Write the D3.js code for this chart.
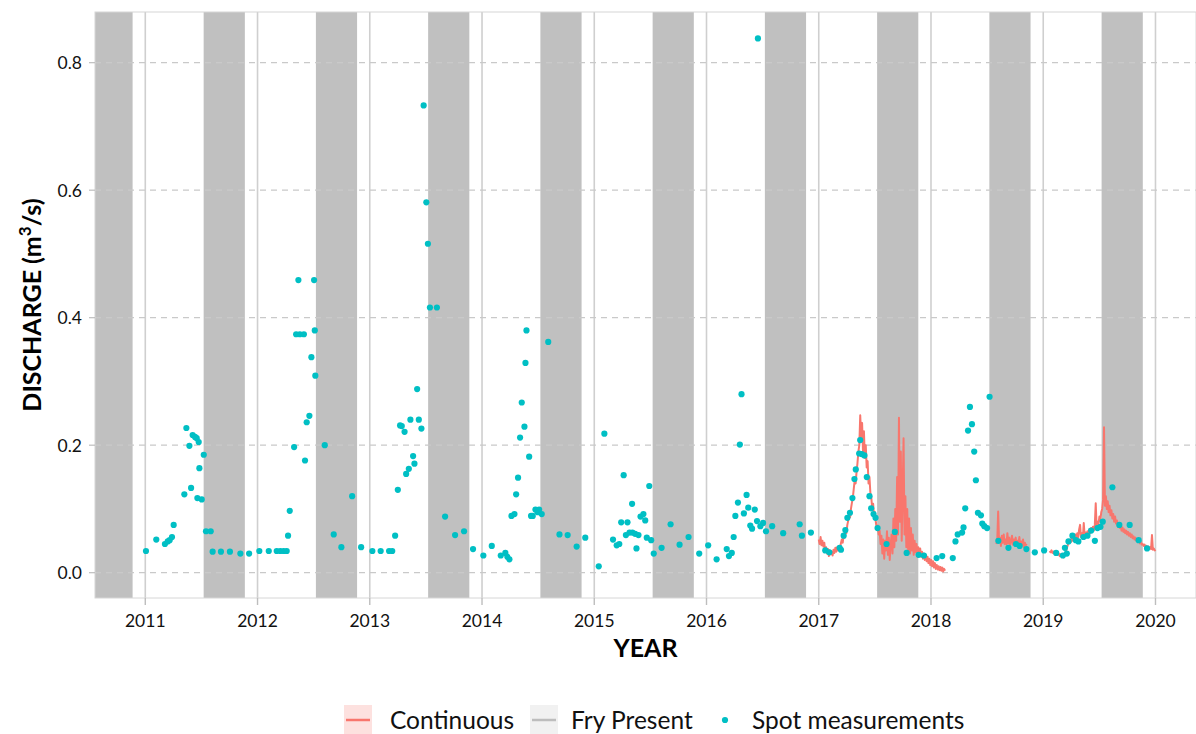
<!DOCTYPE html>
<html>
<head>
<meta charset="utf-8">
<script src="https://cdn.jsdelivr.net/npm/d3@7"></script>
<style>
  body { margin: 0; background: #fff; }
  svg { display: block; font-family: Lato, "Open Sans", sans-serif; }
</style>
</head>
<body>
<svg id="chart" width="1196" height="734"></svg>
<script>
// tick labels
const yearTicks = [2011, 2012, 2013, 2014, 2015, 2016, 2017, 2018, 2019, 2020];
const qTicks = [0.0, 0.2, 0.4, 0.6, 0.8];

// fry present periods (decimal years)
const fryStart = [2010.52, 2011.52, 2012.52, 2013.52, 2014.52, 2015.52, 2016.52, 2017.52, 2018.52, 2019.52];
const fryEnd   = [2010.887, 2011.887, 2012.887, 2013.887, 2014.887, 2015.887, 2016.887, 2017.887, 2018.887, 2019.887];

// spot measurements (decimal year, m3/s)
const spotYear = [
  2011.006,2011.098,2011.175,2011.200,2011.217,2011.238,2011.253,2011.348,2011.366,2011.393,
  2011.408,2011.422,2011.443,2011.458,2011.464,2011.476,2011.482,2011.503,2011.521,2011.541,
  2011.583,2011.600,2011.674,2011.754,2011.847,2011.925,2012.016,2012.100,2012.171,2012.203,
  2012.233,2012.260,2012.272,2012.287,2012.326,2012.344,2012.364,2012.377,2012.413,2012.423,
  2012.438,2012.462,2012.480,2012.504,2012.510,2012.515,2012.599,2012.679,2012.747,2012.843,
  2012.923,2013.023,2013.097,2013.172,2013.200,2013.226,2013.250,2013.270,2013.285,2013.310,
  2013.324,2013.348,2013.362,2013.386,2013.398,2013.422,2013.437,2013.460,2013.480,2013.504,
  2013.518,2013.536,2013.598,2013.671,2013.760,2013.840,2013.920,2014.012,2014.087,2014.167,
  2014.208,2014.226,2014.244,2014.262,2014.289,2014.304,2014.321,2014.339,2014.354,2014.378,
  2014.387,2014.396,2014.420,2014.437,2014.452,2014.476,2014.496,2014.509,2014.532,2014.590,
  2014.690,2014.763,2014.843,2014.920,2015.040,2015.090,2015.167,2015.200,2015.223,2015.240,
  2015.262,2015.282,2015.296,2015.314,2015.337,2015.340,2015.364,2015.376,2015.394,2015.412,
  2015.438,2015.454,2015.468,2015.490,2015.507,2015.530,2015.600,2015.680,2015.760,2015.840,
  2015.935,2016.015,2016.090,2016.180,2016.200,2016.225,2016.242,2016.257,2016.280,2016.297,
  2016.312,2016.333,2016.357,2016.372,2016.390,2016.406,2016.430,2016.450,2016.458,2016.480,
  2016.504,2016.530,2016.585,2016.683,2016.830,2016.850,2016.930,2017.058,2017.094,2017.186,
  2017.198,2017.222,2017.237,2017.255,2017.278,2017.300,2017.318,2017.330,2017.360,2017.369,
  2017.383,2017.407,2017.428,2017.452,2017.467,2017.488,2017.506,2017.524,2017.604,2017.678,
  2017.783,2017.890,2017.937,2018.050,2018.100,2018.194,2018.218,2018.238,2018.277,2018.290,
  2018.305,2018.330,2018.347,2018.365,2018.385,2018.400,2018.418,2018.445,2018.457,2018.475,
  2018.500,2018.522,2018.600,2018.690,2018.757,2018.790,2018.850,2018.925,2019.008,2019.115,
  2019.175,2019.193,2019.210,2019.225,2019.260,2019.290,2019.313,2019.358,2019.394,2019.427,
  2019.460,2019.483,2019.510,2019.530,2019.616,2019.678,2019.770,2019.850,2019.925
];
const spotQ = [
  0.034,0.052,0.045,0.049,0.051,0.056,0.075,0.123,0.227,0.199,
  0.133,0.216,0.213,0.211,0.117,0.205,0.164,0.115,0.185,0.065,
  0.065,0.033,0.033,0.033,0.030,0.030,0.034,0.034,0.034,0.034,
  0.034,0.034,0.058,0.097,0.197,0.374,0.459,0.374,0.374,0.176,
  0.236,0.246,0.338,0.459,0.380,0.309,0.200,0.060,0.040,0.120,
  0.040,0.034,0.034,0.034,0.034,0.058,0.130,0.231,0.230,0.221,
  0.155,0.163,0.240,0.183,0.171,0.288,0.240,0.226,0.733,0.581,
  0.516,0.416,0.416,0.088,0.059,0.065,0.037,0.027,0.042,0.027,
  0.031,0.025,0.021,0.089,0.092,0.123,0.149,0.212,0.267,0.229,
  0.329,0.380,0.182,0.089,0.089,0.099,0.095,0.099,0.092,0.362,
  0.060,0.059,0.041,0.055,0.010,0.218,0.052,0.043,0.045,0.079,
  0.153,0.059,0.079,0.063,0.108,0.063,0.061,0.038,0.059,0.088,
  0.092,0.082,0.055,0.136,0.051,0.030,0.039,0.076,0.044,0.056,
  0.030,0.043,0.021,0.037,0.026,0.031,0.056,0.089,0.110,0.201,
  0.280,0.093,0.122,0.102,0.074,0.069,0.099,0.081,0.838,0.073,
  0.078,0.065,0.073,0.062,0.076,0.058,0.063,0.035,0.032,0.039,
  0.036,0.058,0.067,0.086,0.094,0.117,0.147,0.162,0.187,0.208,
  0.186,0.184,0.150,0.120,0.101,0.092,0.086,0.070,0.045,0.064,
  0.031,0.028,0.027,0.023,0.026,0.023,0.049,0.060,0.063,0.071,
  0.101,0.223,0.260,0.233,0.190,0.145,0.094,0.090,0.077,0.073,
  0.070,0.276,0.050,0.039,0.045,0.042,0.037,0.032,0.035,0.031,
  0.027,0.039,0.030,0.049,0.058,0.051,0.049,0.056,0.058,0.066,
  0.050,0.070,0.072,0.080,0.134,0.075,0.075,0.051,0.038
];

// continuous logger record, one reading every 3 days from each segment start
const contStep = 3 / 365.25;
const contStart = [2017.0, 2018.582, 2019.057];
const cont2017 = [
  0.052,0.045,0.056,0.043,0.050,0.041,0.047,
  0.034,0.040,0.030,0.037,0.026,0.035,0.029,0.033,
  0.027,0.036,0.031,0.039,0.033,0.040,0.035,0.042,0.038,0.046,
  0.052,0.047,0.058,0.055,0.066,0.062,
  0.075,0.082,0.090,0.087,0.101,0.110,
  0.118,0.132,0.145,0.140,0.158,
  0.172,0.190,0.200,
  0.247,0.210,0.235,0.190,
  0.222,0.180,0.200,0.165,0.175,
  0.140,0.150,0.125,0.118,
  0.100,0.108,0.088,0.095,
  0.078,0.070,0.074,0.060,0.066,
  0.045,0.058,0.030,0.052,0.022,0.050,0.035,0.065,0.028,0.055,0.020,0.045,
  0.060,0.030,0.085,0.040,0.100,0.050,
  0.150,0.060,0.243,
  0.080,0.190,0.050,0.130,0.211,0.060,
  0.120,0.040,0.100,0.035,0.085,0.030,
  0.070,0.035,0.060,0.028,0.050,0.032,0.045,0.025,0.040,0.030,0.038,
  0.025,0.033,0.022,0.030,0.020,0.028,0.018,0.025,0.015,0.022,0.012,0.020,
  0.010,0.018,0.008,0.015,0.006,0.012,0.005,0.010,0.004,0.009,0.003,0.008,0.002,0.006,0.003
];
const cont2018 = [
  0.045,0.050,0.096,0.048,0.055,0.042,0.058,0.047,0.060,0.045,
  0.052,0.044,0.062,0.046,0.055,0.043,0.050,0.058,0.044,0.052,
  0.047,0.055,0.042,0.050,0.045,0.056,0.041,0.049,0.044,0.052,
  0.040,0.047,0.043,0.045
];
const cont2019 = [
  0.034,0.032,0.035,0.031,0.033,0.030,0.032,0.029,0.031,
  0.028,0.030,0.026,0.029,0.025,0.028,0.024,0.027,0.030,
  0.035,0.040,0.045,0.050,0.052,
  0.048,0.055,0.050,0.058,0.052,0.060,0.054,0.062,0.055,0.068,0.075,
  0.056,0.062,0.054,0.078,0.058,0.063,0.057,0.065,0.060,0.068,0.062,0.070,0.064,
  0.072,0.066,0.075,0.109,
  0.070,0.080,0.076,0.088,0.082,0.095,
  0.100,0.115,0.228,0.105,
  0.120,0.100,0.112,0.095,0.105,0.090,
  0.098,0.085,0.092,0.080,0.088,0.077,0.082,
  0.072,0.078,0.070,0.074,0.066,0.071,0.064,0.068,0.062,0.066,0.060,0.064,
  0.058,0.062,0.056,0.060,0.054,0.057,0.052,0.055,0.050,0.053,0.048,0.050,
  0.046,0.048,0.044,0.045,0.042,0.044,0.040,0.042,0.039,0.041,0.038,0.040,0.037,0.059,0.036,
  0.038,0.035,0.036
];
const contSegments = [cont2017, cont2018, cont2019];

const RED = "#F8766D", CYAN = "#00BFC4", BAND = "#c0c0c0";

const svg = d3.select("#chart");
const pL = 95, pR = 1196, pT = 12, pB = 598;

const x = d3.scaleLinear().domain([2010.552, 2020.361]).range([pL, pR]);
const y = d3.scaleLinear().domain([-0.0397, 0.8795]).range([pB, pT]);

svg.append("defs").append("clipPath").attr("id", "panel")
  .append("rect").attr("x", pL).attr("y", pT)
  .attr("width", pR - pL).attr("height", pB - pT);

const panel = svg.append("g").attr("clip-path", "url(#panel)");

// vertical year gridlines
panel.selectAll(".vgrid").data(yearTicks).enter().append("line")
  .attr("x1", d => x(d)).attr("x2", d => x(d))
  .attr("y1", pT).attr("y2", pB)
  .attr("stroke", "#cfcfcf").attr("stroke-width", 1.6);

// fry present bands
panel.selectAll(".fry").data(fryStart).enter().append("rect")
  .attr("x", (d, i) => x(d))
  .attr("width", (d, i) => x(fryEnd[i]) - x(d))
  .attr("y", pT).attr("height", pB - pT)
  .attr("fill", BAND);

// horizontal dashed gridlines
panel.selectAll(".hgrid").data(qTicks).enter().append("line")
  .attr("x1", pL).attr("x2", pR)
  .attr("y1", d => y(d)).attr("y2", d => y(d))
  .attr("stroke", "#c9c9c9").attr("stroke-width", 1.2)
  .attr("stroke-dasharray", "6,5");

// panel border
svg.append("rect").attr("x", pL).attr("y", pT)
  .attr("width", pR - pL).attr("height", pB - pT)
  .attr("fill", "none").attr("stroke", "#d6d6d6").attr("stroke-width", 1);

// continuous line
const line = d3.line().x(d => x(d[0])).y(d => y(d[1]));
contSegments.forEach((seg, s) => {
  const pts = seg.map((v, i) => [contStart[s] + i * contStep, v]);
  panel.append("path").datum(pts)
    .attr("d", line)
    .attr("fill", "none").attr("stroke", RED).attr("stroke-width", 2)
    .attr("stroke-linejoin", "round");
});

// spot points
panel.selectAll(".spot").data(spotYear).enter().append("circle")
  .attr("cx", d => x(d))
  .attr("cy", (d, i) => y(spotQ[i]))
  .attr("r", 3.1)
  .attr("fill", CYAN);

// x axis ticks + labels
const xa = svg.append("g");
yearTicks.forEach(t => {
  xa.append("line").attr("x1", x(t)).attr("x2", x(t))
    .attr("y1", pB).attr("y2", pB + 7)
    .attr("stroke", "#bdbdbd").attr("stroke-width", 1.4);
  xa.append("text").attr("x", x(t)).attr("y", 627)
    .attr("text-anchor", "middle").attr("font-size", 17.5).attr("fill", "#111")
    .text(t);
});

// y axis ticks + labels
const ya = svg.append("g");
qTicks.forEach(t => {
  ya.append("line").attr("x1", pL - 6).attr("x2", pL)
    .attr("y1", y(t)).attr("y2", y(t))
    .attr("stroke", "#bdbdbd").attr("stroke-width", 1.2);
  ya.append("text").attr("x", 82).attr("y", y(t) + 6.5)
    .attr("text-anchor", "end").attr("font-size", 17.5).attr("fill", "#111")
    .text(d3.format(".1f")(t));
});

// axis titles
svg.append("text").attr("x", (pL + pR) / 2).attr("y", 657)
  .attr("text-anchor", "middle").attr("font-size", 25).attr("font-weight", "bold")
  .attr("fill", "#000").text("YEAR");

const yt = svg.append("text")
  .attr("transform", `translate(41,${(pT + pB) / 2}) rotate(-90)`)
  .attr("text-anchor", "middle").attr("font-size", 25).attr("font-weight", "bold")
  .attr("fill", "#000");
yt.append("tspan").text("DISCHARGE (m");
yt.append("tspan").attr("font-size", 17).attr("dy", -10).text("3");
yt.append("tspan").attr("dy", 10).text("/s)");

// legend
const lg = svg.append("g");
lg.append("rect").attr("x", 344).attr("y", 705).attr("width", 28).attr("height", 30).attr("fill", "#fde1df");
lg.append("line").attr("x1", 346).attr("x2", 370).attr("y1", 720).attr("y2", 720)
  .attr("stroke", RED).attr("stroke-width", 2.5);
lg.append("text").attr("x", 390).attr("y", 729).attr("font-size", 24.5).attr("fill", "#111").text("Continuous");

lg.append("rect").attr("x", 530).attr("y", 705).attr("width", 28).attr("height", 30).attr("fill", "#f1f1f1");
lg.append("line").attr("x1", 532).attr("x2", 556).attr("y1", 720).attr("y2", 720)
  .attr("stroke", "#bdbdbd").attr("stroke-width", 2.5);
lg.append("text").attr("x", 571).attr("y", 729).attr("font-size", 24.5).attr("fill", "#111").text("Fry Present");

lg.append("circle").attr("cx", 725).attr("cy", 720).attr("r", 3.1).attr("fill", CYAN);
lg.append("text").attr("x", 752).attr("y", 729).attr("font-size", 24.5).attr("fill", "#111").text("Spot measurements");
</script>
</body>
</html>
